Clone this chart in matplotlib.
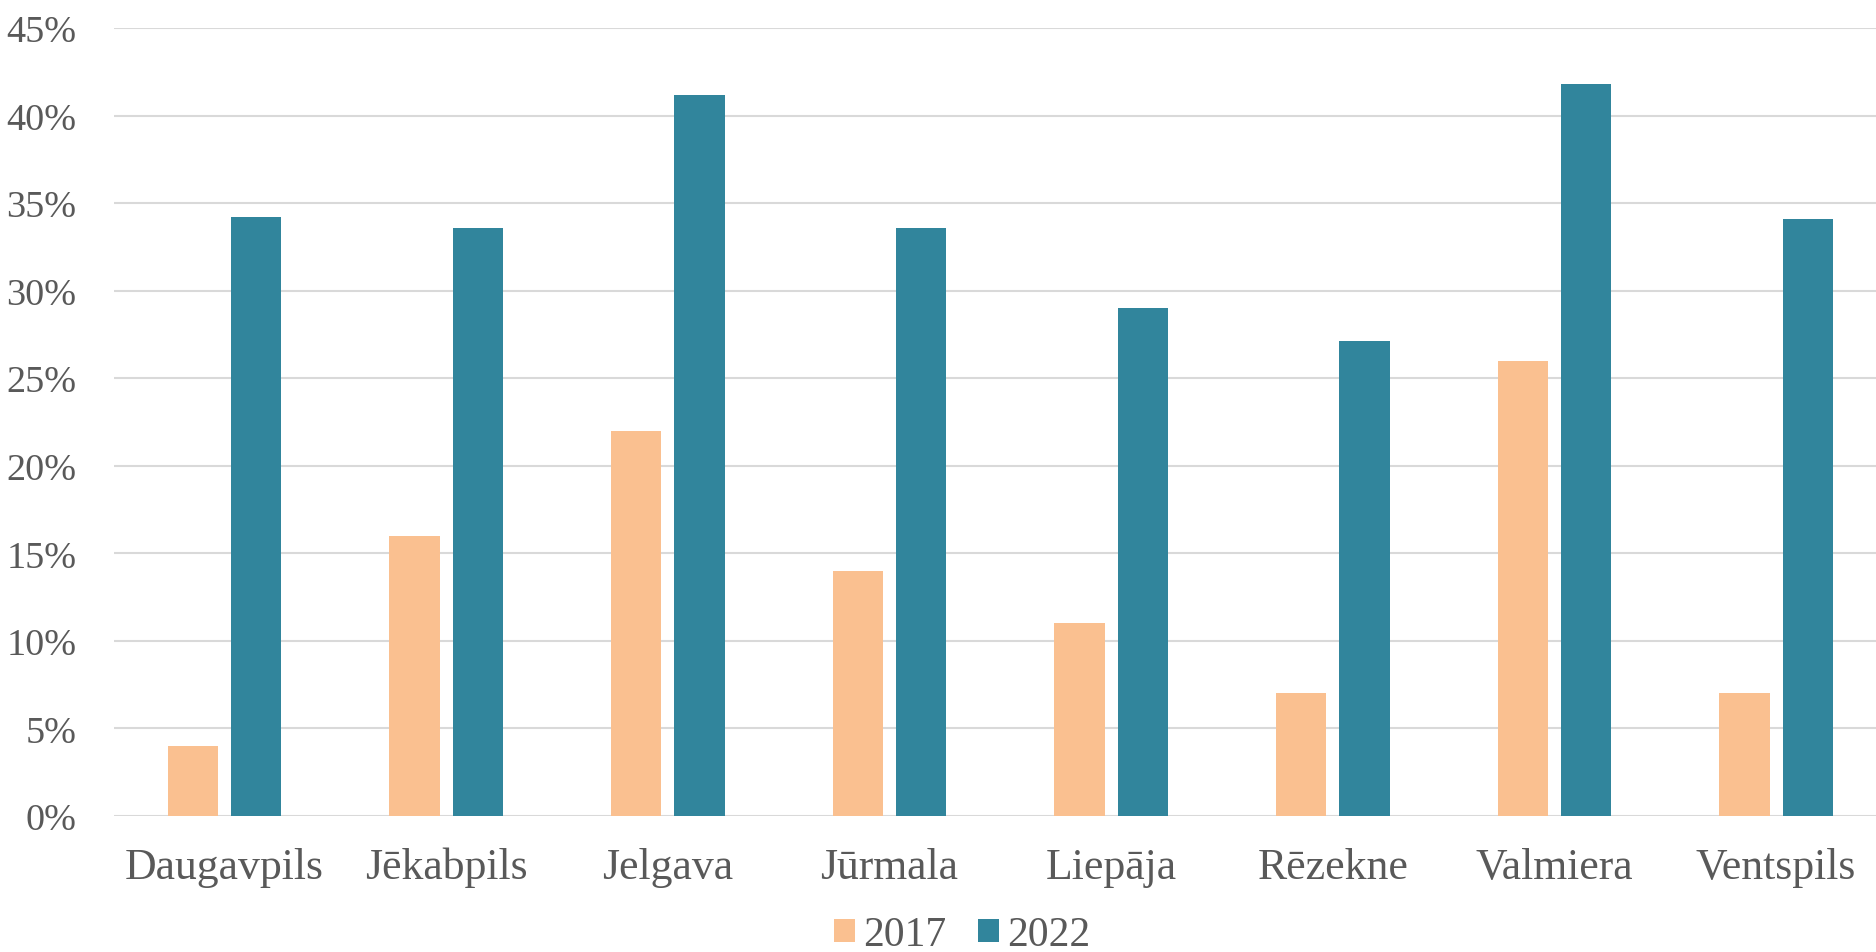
import numpy as np
import matplotlib
matplotlib.use("Agg")
import matplotlib.pyplot as plt
from matplotlib.ticker import FuncFormatter

# %%
# Data
# ----

cities = ["Daugavpils", "Jēkabpils", "Jelgava", "Jūrmala",
          "Liepāja", "Rēzekne", "Valmiera", "Ventspils"]
years = ["2017", "2022"]
share_2017 = [4, 16, 22, 14, 11, 7, 26, 7]
share_2022 = [34.2, 33.6, 41.2, 33.6, 29.0, 27.1, 41.8, 34.1]

colors = {"2017": "#FAC090", "2022": "#31859C"}
text_color = "#595959"

plt.rcParams["font.family"] = ["Liberation Serif", "DejaVu Serif"]

# %%
# Plot
# ----

fig = plt.figure(figsize=(18.76, 9.53), dpi=100)
ax = fig.add_axes([113.7 / 1876, 1 - 817 / 953, (1887 - 113.7) / 1876, (817 - 29) / 953])

x = np.arange(len(cities))
width = 0.227
offset = 0.143
ax.bar(x - offset, share_2017, width, color=colors["2017"], label=years[0], zorder=3)
ax.bar(x + offset, share_2022, width, color=colors["2022"], label=years[1], zorder=3)

ax.set_xlim(-0.5, len(cities) - 0.5)
ax.set_ylim(0, 45)
ax.set_yticks(np.arange(0, 46, 5))
ax.yaxis.set_major_formatter(FuncFormatter(lambda v, p: f"{v:.0f}%"))
ax.set_xticks(x)
ax.set_xticklabels(cities)

ax.grid(axis="y", color="#D9D9D9", linewidth=1.5, zorder=0)
for s in ax.spines.values():
    s.set_visible(False)
ax.tick_params(axis="y", length=0, pad=27, labelsize=27.5, labelcolor=text_color)
ax.tick_params(axis="x", length=0, pad=22, labelsize=31.5, labelcolor=text_color)

leg = fig.legend(loc="center", bbox_to_anchor=(962 / 1876, 1 - 936 / 953), ncol=2,
                 frameon=False, fontsize=30, handlelength=0.5, handleheight=0.5,
                 handletextpad=0.2, columnspacing=0.75, labelcolor=text_color,
                 borderpad=0.1)

fig.savefig("out.png", dpi=100)
